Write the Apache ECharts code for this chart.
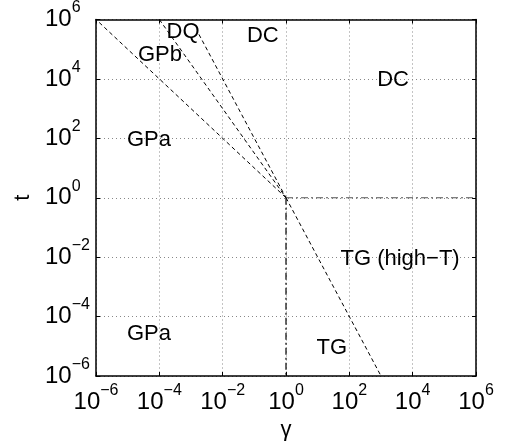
<!DOCTYPE html>
<html>
<head>
<meta charset="utf-8">
<script src="https://cdn.jsdelivr.net/npm/echarts@6/dist/echarts.min.js"></script>
<style>
html,body{margin:0;padding:0;background:#fff;}
#c{width:510px;height:447px;}
</style>
</head>
<body>
<div id="c"></div>
<script>
// Tick exponents (labels 10^n)
const tickExponents = [-6, -4, -2, 0, 2, 4, 6];

// Boundary lines (gamma, t)
const lineInvGamma = [[1.26e-6, 7.94e5], [1, 1]];        // t = 1/γ
const lineGPb      = [[1e-4, 1e6], [1, 1]];              // t = γ^-1.5
const lineDQ       = [[1.78e-3, 3.16e5], [1, 1]];        // t = γ^-2 (γ<1)
const lineTG       = [[1, 1], [1e3, 1e-6]];              // t = γ^-2 (γ>1)
const lineHoriz    = [[1, 1], [1e6, 1]];                 // t = 1, γ>1
const lineVert     = [[1, 1], [1, 1e-6]];                // γ = 1, t<1

// Region labels
const regionNames = ['DQ', 'DC', 'GPb', 'DC', 'GPa', 'TG (high\u2212T)', 'GPa', 'TG'];
const regionGamma = [5.6e-4, 0.186, 1.05e-4, 2400, 4.7e-5, 4000, 4.7e-5, 28];
const regionT     = [3.9e5, 2.9e5, 6.3e4, 9100, 89, 8.7e-3, 2.7e-5, 9.1e-6];

const fmt = v => {
  const e = Math.round(Math.log10(v));
  if (tickExponents.indexOf(e) < 0) return '';
  const s = e < 0 ? '\u2212' + (-e) : String(e);
  return '{b|10}{s|' + s + '}';
};
const rich = {
  b: {fontSize: 24, fontFamily: 'Liberation Sans, Arial, sans-serif', color: '#000'},
  s: {fontSize: 16, fontFamily: 'Liberation Sans, Arial, sans-serif', color: '#000', padding: [0, 0, 23, 0]}
};
const axisLineStyle = {color: '#000', width: 1.5};
const splitStyle = {show: true, lineStyle: {color: '#888', width: 1, type: [1, 3]}};

const dashed = {color: '#000', width: 1, type: [4, 3]};
const mkLine = (data, style) => ({
  type: 'line', data: data, showSymbol: false, symbol: 'none',
  lineStyle: style, silent: true, animation: false, z: 3
});

const labelData = regionNames.map((n, i) => ({name: n, value: [regionGamma[i], regionT[i]]}));

const chart = echarts.init(document.getElementById('c'), null, {renderer: 'canvas'});
chart.setOption({
  backgroundColor: '#fff',
  animation: false,
  grid: {left: 96, right: 34, top: 17, bottom: 71},
  xAxis: [{
    type: 'log', logBase: 10, min: 1e-6, max: 1e6, interval: 2,
    name: '\u03b3', nameLocation: 'middle', nameGap: 33,
    nameTextStyle: {fontSize: 22, fontFamily: 'Liberation Sans, Arial, sans-serif', color: '#000'},
    axisLine: {show: true, lineStyle: axisLineStyle},
    axisTick: {show: true, inside: true, length: 4, lineStyle: {color: '#000'}},
    axisLabel: {show: true, formatter: fmt, rich: rich, margin: 7, color: '#000'},
    splitLine: splitStyle, minorTick: {show: false}
  }, {
    type: 'log', logBase: 10, min: 1e-6, max: 1e6, interval: 2, position: 'top',
    axisLine: {show: true, lineStyle: axisLineStyle},
    axisTick: {show: true, inside: true, length: 4, lineStyle: {color: '#000'}},
    axisLabel: {show: false}, splitLine: {show: false}
  }],
  yAxis: [{
    type: 'log', logBase: 10, min: 1e-6, max: 1e6, interval: 2,
    name: 't', nameLocation: 'middle', nameGap: 60, nameRotate: 90,
    nameTextStyle: {fontSize: 22, fontFamily: 'Liberation Sans, Arial, sans-serif', color: '#000'},
    axisLine: {show: true, lineStyle: axisLineStyle},
    axisTick: {show: true, inside: true, length: 4, lineStyle: {color: '#000'}},
    axisLabel: {show: true, formatter: fmt, rich: rich, margin: 51, align: 'left', color: '#000'},
    splitLine: splitStyle
  }, {
    type: 'log', logBase: 10, min: 1e-6, max: 1e6, interval: 2, position: 'right',
    axisLine: {show: true, lineStyle: axisLineStyle},
    axisTick: {show: true, inside: true, length: 4, lineStyle: {color: '#000'}},
    axisLabel: {show: false}, splitLine: {show: false}
  }],
  series: [
    mkLine(lineInvGamma, dashed),
    mkLine(lineGPb, dashed),
    mkLine(lineDQ, dashed),
    mkLine(lineTG, dashed),
    mkLine(lineHoriz, {color: '#555', width: 1.2, type: [7, 3, 2, 3]}),
    mkLine(lineVert, {color: '#000', width: 1.2, type: [7, 3, 2, 3]}),
    {
      type: 'scatter', data: labelData, symbolSize: 0, silent: true, z: 5,
      itemStyle: {opacity: 1},
      label: {
        show: true, position: 'inside', formatter: p => p.name, opacity: 1,
        fontSize: 22, fontFamily: 'Liberation Sans, Arial, sans-serif', color: '#000',
        textBorderWidth: 0
      }
    }
  ]
});
</script>
</body>
</html>
